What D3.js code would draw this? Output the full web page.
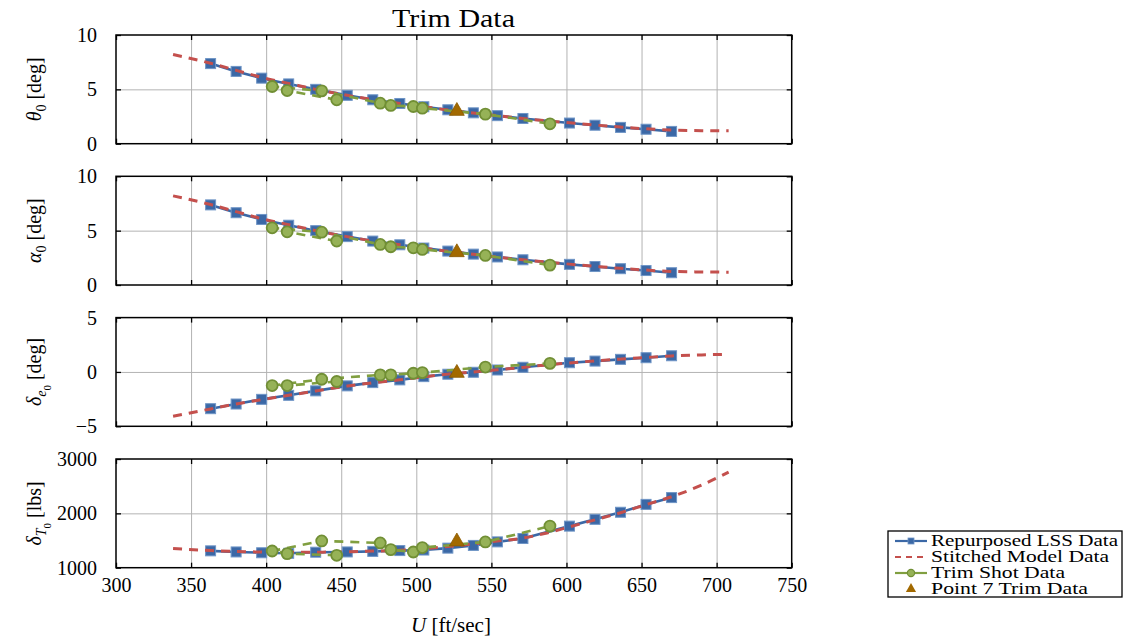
<!DOCTYPE html>
<html>
<head>
<meta charset="utf-8">
<script src="https://cdn.jsdelivr.net/npm/d3@7"></script>
<style>
  body { margin: 0; background: #fff; }
  svg text { font-family: "Liberation Serif", "Times New Roman", serif; fill: #000; }
</style>
</head>
<body>
<svg id="chart" width="1125" height="642"></svg>
<script>
// Airspeed sweep [ft/sec]
const xTicks = [300, 350, 400, 450, 500, 550, 600, 650, 700, 750];

// Repurposed LSS data
const speedLSS  = [363, 380, 397, 415, 433, 454, 471, 489, 505, 521, 538, 554, 571, 602, 619, 636, 653, 670];
const thetaLSS  = [7.37, 6.65, 6.03, 5.5, 5.0, 4.45, 4.04, 3.7, 3.4, 3.12, 2.84, 2.58, 2.32, 1.9, 1.7, 1.5, 1.33, 1.13];
const alphaLSS  = [7.37, 6.65, 6.03, 5.5, 5.0, 4.45, 4.04, 3.7, 3.4, 3.12, 2.84, 2.58, 2.32, 1.9, 1.7, 1.5, 1.33, 1.13];
const elevLSS   = [-3.38, -2.95, -2.52, -2.15, -1.74, -1.28, -0.98, -0.73, -0.43, -0.21, -0.03, 0.18, 0.43, 0.85, 1.0, 1.16, 1.31, 1.49];
const thrustLSS = [1310, 1290, 1275, 1265, 1285, 1290, 1300, 1315, 1325, 1360, 1410, 1475, 1537, 1765, 1890, 2020, 2165, 2290];

// Stitched model data
const speedModel  = [338, 363, 380, 397, 415, 433, 454, 471, 489, 505, 521, 538, 554, 571, 587, 602, 619, 636, 653, 670, 690, 708];
const thetaModel  = [8.2, 7.4, 6.75, 6.1, 5.55, 5.0, 4.45, 4.05, 3.7, 3.4, 3.1, 2.82, 2.57, 2.32, 2.1, 1.92, 1.72, 1.53, 1.37, 1.25, 1.2, 1.18];
const alphaModel  = [8.2, 7.4, 6.75, 6.1, 5.55, 5.0, 4.45, 4.05, 3.7, 3.4, 3.1, 2.82, 2.57, 2.32, 2.1, 1.92, 1.72, 1.53, 1.37, 1.25, 1.2, 1.18];
const elevModel   = [-4.08, -3.4, -2.95, -2.55, -2.15, -1.75, -1.3, -1.0, -0.72, -0.45, -0.2, 0.0, 0.2, 0.42, 0.65, 0.83, 1.02, 1.18, 1.33, 1.47, 1.57, 1.63];
const thrustModel = [1352, 1315, 1300, 1288, 1282, 1285, 1292, 1305, 1320, 1350, 1390, 1440, 1490, 1545, 1640, 1750, 1880, 2010, 2160, 2305, 2520, 2760];

// Trim shot data (in flight order)
const speedShot  = [447, 414, 404, 437, 476, 483, 498, 504, 546, 589];
const thetaShot  = [4.04, 4.89, 5.26, 4.86, 3.73, 3.52, 3.42, 3.27, 2.72, 1.83];
const alphaShot  = [4.04, 4.89, 5.26, 4.86, 3.73, 3.52, 3.42, 3.27, 2.72, 1.83];
const elevShot   = [-0.88, -1.25, -1.25, -0.67, -0.27, -0.27, -0.12, -0.06, 0.45, 0.79];
const thrustShot = [1228, 1259, 1307, 1493, 1456, 1333, 1289, 1370, 1474, 1765];

// Point 7 trim data
const speedPoint7  = [527];
const thetaPoint7  = [3.0];
const alphaPoint7  = [3.0];
const elevPoint7   = [-0.1];
const thrustPoint7 = [1480];

const thetaTicks  = [0, 5, 10];
const alphaTicks  = [0, 5, 10];
const elevTicks   = [-5, 0, 5];
const thrustTicks = [1000, 2000, 3000];

const legendLabels = ["Repurposed LSS Data", "Stitched Model Data", "Trim Shot Data", "Point 7 Trim Data"];

const FONT = '"Liberation Serif", "Times New Roman", serif';
const BLUE = "#3b68a6", BLUE_EDGE = "#6f95c6";
const RED = "#c4504d";
const GREEN = "#809f40", GREEN_FILL = "#96b257", GREEN_EDGE = "#718f35";
const BROWN = "#a26900";

const svg = d3.select("#chart").attr("font-family", FONT);
const left = 116, right = 791.7, panelH = 108.7;
const tops = [35, 176.3, 317.6, 459];

const x = d3.scaleLinear().domain([300, 750]).range([left, right]);

const panels = [
  { lss: thetaLSS, model: thetaModel, shot: thetaShot, p7: thetaPoint7, ticks: thetaTicks,
    label: [["θ", {italic: true}], ["0", {sub: 1}], [" [deg]", {}]] },
  { lss: alphaLSS, model: alphaModel, shot: alphaShot, p7: alphaPoint7, ticks: alphaTicks,
    label: [["α", {italic: true}], ["0", {sub: 1}], [" [deg]", {}]] },
  { lss: elevLSS, model: elevModel, shot: elevShot, p7: elevPoint7, ticks: elevTicks,
    label: [["δ", {italic: true}], ["e", {italic: true, sub: 1}], ["0", {sub: 2}], [" [deg]", {}]] },
  { lss: thrustLSS, model: thrustModel, shot: thrustShot, p7: thrustPoint7, ticks: thrustTicks,
    label: [["δ", {italic: true}], ["T", {italic: true, sub: 1}], ["0", {sub: 2}], [" [lbs]", {}]] }
];

function drawLabel(sel, parts) {
  let level = 0;
  parts.forEach(([str, o]) => {
    const lv = o.sub || 0;
    const shift = (lv - level) * 5;
    level = lv;
    const t = sel.append("tspan").text(str)
      .attr("dy", shift)
      .style("font-size", lv === 0 ? "20px" : lv === 1 ? "14px" : "11px");
    if (o.italic) t.style("font-style", "italic");
  });
}

panels.forEach((p, i) => {
  const top = tops[i], bottom = top + panelH;
  const y = d3.scaleLinear().domain([p.ticks[0], p.ticks[p.ticks.length - 1]]).range([bottom, top]);
  const g = svg.append("g");

  // grid
  g.append("g").attr("transform", `translate(0,${bottom})`)
    .call(d3.axisBottom(x).tickValues(xTicks.slice(1, -1)).tickSize(-panelH).tickFormat(""))
    .call(a => { a.select(".domain").remove(); a.selectAll("line").attr("stroke", "#b3b3b3").attr("stroke-width", 1); });
  g.append("g").attr("transform", `translate(${left},0)`)
    .call(d3.axisLeft(y).tickValues(p.ticks.slice(1, -1)).tickSize(-(right - left)).tickFormat(""))
    .call(a => { a.select(".domain").remove(); a.selectAll("line").attr("stroke", "#b3b3b3").attr("stroke-width", 1); });

  // inner tick marks on all four sides
  const tickStyle = a => { a.select(".domain").remove(); a.selectAll("line").attr("stroke", "#000").attr("stroke-width", 1.3); };
  g.append("g").attr("transform", `translate(0,${bottom})`)
    .call(d3.axisBottom(x).tickValues(xTicks).tickSize(-5).tickFormat("")).call(tickStyle);
  g.append("g").attr("transform", `translate(0,${top})`)
    .call(d3.axisTop(x).tickValues(xTicks).tickSize(-5).tickFormat("")).call(tickStyle);
  g.append("g").attr("transform", `translate(${right},0)`)
    .call(d3.axisRight(y).tickValues(p.ticks).tickSize(-5).tickFormat("")).call(tickStyle);
  const yAxis = g.append("g").attr("transform", `translate(${left},0)`)
    .call(d3.axisLeft(y).tickValues(p.ticks).tickSize(-5).tickPadding(19).tickFormat(d3.format("d")))
    .call(tickStyle);
  yAxis.attr("font-family", FONT).attr("font-size", 20);
  yAxis.selectAll("text").attr("fill", "#000");

  // x tick labels on the bottom panel only
  if (i === panels.length - 1) {
    const xa = g.append("g").attr("transform", `translate(0,${bottom})`)
      .call(d3.axisBottom(x).tickValues(xTicks).tickSize(0).tickPadding(10).tickFormat(d3.format("d")));
    xa.select(".domain").remove();
    xa.attr("font-family", FONT).attr("font-size", 20);
    xa.selectAll("text").attr("fill", "#000");
  }

  // LSS line + squares
  const lssPts = speedLSS.map((u, k) => [u, p.lss[k]]);
  const line = d3.line().x(d => x(d[0])).y(d => y(d[1]));
  g.append("path").attr("d", line(lssPts)).attr("fill", "none")
    .attr("stroke", BLUE).attr("stroke-width", 2.6);
  g.selectAll(".sq").data(lssPts).enter().append("rect")
    .attr("x", d => x(d[0]) - 5).attr("y", d => y(d[1]) - 5)
    .attr("width", 10).attr("height", 10)
    .attr("fill", BLUE).attr("stroke", BLUE_EDGE).attr("stroke-width", 1);

  // stitched model (dashed)
  const modelPts = speedModel.map((u, k) => [u, p.model[k]]);
  g.append("path").attr("d", d3.line().curve(d3.curveMonotoneX).x(d => x(d[0])).y(d => y(d[1]))(modelPts))
    .attr("fill", "none").attr("stroke", RED).attr("stroke-width", 3)
    .attr("stroke-dasharray", "9,7");

  // trim shots (dashed, circles)
  const shotPts = speedShot.map((u, k) => [u, p.shot[k]]);
  g.append("path").attr("d", line(shotPts)).attr("fill", "none")
    .attr("stroke", GREEN).attr("stroke-width", 2.6).attr("stroke-dasharray", "9,7");
  g.selectAll(".ci").data(shotPts).enter().append("circle")
    .attr("cx", d => x(d[0])).attr("cy", d => y(d[1])).attr("r", 5.5)
    .attr("fill", GREEN_FILL).attr("stroke", GREEN_EDGE).attr("stroke-width", 1.8);

  // point 7
  const p7Pts = speedPoint7.map((u, k) => [u, p.p7[k]]);
  g.selectAll(".tr").data(p7Pts).enter().append("path")
    .attr("d", d3.symbol(d3.symbolTriangle, 95))
    .attr("transform", d => `translate(${x(d[0])},${y(d[1])})`)
    .attr("fill", BROWN).attr("stroke", "#8c5a00").attr("stroke-width", 0.8);

  // frame
  g.append("rect").attr("x", left).attr("y", top).attr("width", right - left).attr("height", panelH)
    .attr("fill", "none").attr("stroke", "#000").attr("stroke-width", 1.5);

  // y label
  const lab = svg.append("text")
    .attr("transform", `translate(41,${(top + bottom) / 2}) rotate(-90)`)
    .attr("text-anchor", "middle");
  drawLabel(lab, p.label);
});

// title
svg.append("text").attr("x", 453.5).attr("y", 27).attr("text-anchor", "middle")
  .style("font-size", "25px").attr("textLength", 123).attr("lengthAdjust", "spacingAndGlyphs")
  .text("Trim Data");

// x label
const xl = svg.append("text").attr("x", 451).attr("y", 632).attr("text-anchor", "middle")
  .style("font-size", "21px");
xl.append("tspan").style("font-style", "italic").text("U");
xl.append("tspan").text(" [ft/sec]");

// legend
const lg = svg.append("g");
lg.append("rect").attr("x", 888).attr("y", 531).attr("width", 234).attr("height", 66)
  .attr("fill", "#fff").attr("stroke", "#000").attr("stroke-width", 1.3);
const rowY = [541, 557, 573, 589];
const textLens = [187, 178, 134, 157];
legendLabels.forEach((txt, k) => {
  const yy = rowY[k];
  if (k === 0) {
    lg.append("line").attr("x1", 895).attr("x2", 927).attr("y1", yy).attr("y2", yy)
      .attr("stroke", BLUE).attr("stroke-width", 2.2);
    lg.append("rect").attr("x", 908).attr("y", yy - 3).attr("width", 6).attr("height", 6)
      .attr("fill", BLUE).attr("stroke", BLUE_EDGE).attr("stroke-width", 0.8);
  } else if (k === 1) {
    lg.append("line").attr("x1", 895).attr("x2", 927).attr("y1", yy).attr("y2", yy)
      .attr("stroke", RED).attr("stroke-width", 2.2).attr("stroke-dasharray", "6,5");
  } else if (k === 2) {
    lg.append("line").attr("x1", 895).attr("x2", 927).attr("y1", yy).attr("y2", yy)
      .attr("stroke", GREEN).attr("stroke-width", 2.2);
    lg.append("circle").attr("cx", 911).attr("cy", yy).attr("r", 3.6)
      .attr("fill", GREEN_FILL).attr("stroke", GREEN_EDGE).attr("stroke-width", 1.2);
  } else {
    lg.append("path").attr("d", d3.symbol(d3.symbolTriangle, 45))
      .attr("transform", `translate(911,${yy})`).attr("fill", BROWN);
  }
  lg.append("text").attr("x", 931).attr("y", yy + 5).style("font-size", "16.5px")
    .attr("textLength", textLens[k]).attr("lengthAdjust", "spacingAndGlyphs").text(txt);
});
</script>
</body>
</html>
